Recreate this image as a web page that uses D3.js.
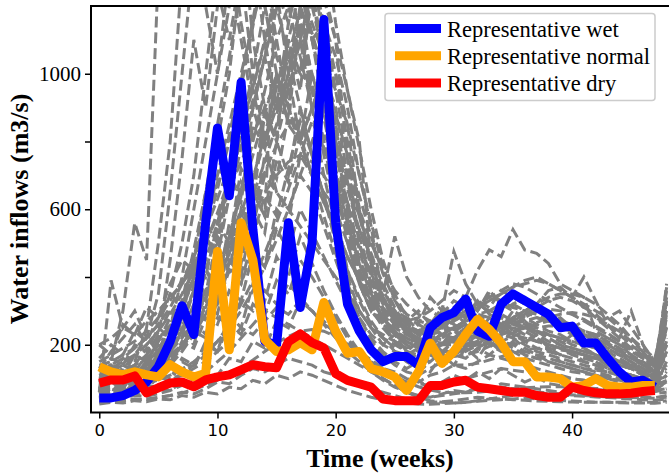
<!DOCTYPE html>
<html>
<head>
    <title>Water inflows scenarios</title>
    <script src="https://d3js.org/d3.v7.min.js"></script>
    <style>
        body { margin: 0; background: #fff; }
        .scen { fill: none; stroke: #808080; stroke-width: 3; stroke-dasharray: 11,4.8; }
        .rep { fill: none; stroke-width: 9; stroke-linejoin: round; }
        .ytick text { font-family: "Liberation Serif", serif; font-size: 21px; }
        .xtick text { font-family: "DejaVu Sans", sans-serif; font-size: 16.5px; }
        .title { font-family: "Liberation Serif", serif; font-size: 26px; font-weight: bold; }
        .legend-text { font-family: "Liberation Serif", serif; font-size: 22.5px; }
    </style>
</head>
<body>
    <svg width="669" height="475"></svg>
    <script>
        // representative years (weeks 0..47)
        var wetFlow = [43,43,50,65,90,135,210,315,230,560,840,640,975,540,210,200,560,310,500,1160,560,320,240,185,150,165,165,140,250,280,295,335,240,225,320,350,330,310,290,250,255,205,205,160,120,90,95,75];
        var normalFlow = [135,120,111,120,111,105,141,120,105,116,475,185,560,450,215,180,185,206,185,325,240,175,180,130,120,105,65,120,205,145,180,230,275,245,205,150,150,105,105,100,75,80,100,80,75,75,80,80];
        var dryFlow = [87,96,96,108,58,73,87,90,76,96,105,111,126,141,135,132,209,232,206,191,115,95,85,75,40,35,35,35,80,80,90,95,75,70,65,60,60,50,45,45,75,65,58,55,55,57,62,65];

        // historical scenarios (weeks 0..48)
        var scen01 = [70,150,300,560,450,1300,1500,1250,1400,1600,1350,1200,1450,1100,900,800,950,1100,900,700,550,400,300,250,230,210,190,200,230,260,240,220,200,210,230,250,240,220,200,190,170,160,150,130,120,100,90,80,150];
        var scen02 = [60,390,250,300,220,260,350,500,700,1000,1300,1500,1250,1350,1100,900,1000,1200,1300,1100,800,560,380,300,260,240,220,210,200,220,240,260,250,230,240,260,250,230,210,200,180,170,160,140,120,110,100,90,200];
        var scen03 = [40,50,60,80,100,140,200,300,450,650,800,1000,1300,1500,1300,1100,900,800,700,650,600,500,380,300,350,520,400,340,300,280,260,240,230,220,210,200,210,220,200,190,180,170,150,130,120,110,100,95,380];
        var scen04 = [90,100,130,110,150,180,250,400,600,800,1000,1200,1400,1300,1200,1050,950,1100,1250,1000,800,600,450,380,330,300,280,260,340,300,475,380,320,300,280,260,250,240,230,220,200,190,170,150,140,130,110,100,300];
        var scen05 = [50,60,70,90,110,150,220,330,480,650,850,1050,1250,1400,1200,1000,850,800,900,1000,900,700,500,380,300,260,240,230,250,300,310,340,420,480,460,540,480,470,440,380,360,340,240,220,200,170,140,120,250];
        var scen06 = [80,90,100,120,140,170,220,300,400,550,700,850,1000,1150,1300,1450,1350,1250,1300,1400,1150,950,800,450,330,280,250,240,230,240,250,270,280,300,290,270,250,240,230,220,210,200,190,180,160,140,120,100,330];
        var scen07 = [60,70,80,95,115,140,180,240,320,420,540,680,820,960,1100,1250,1350,1200,1100,1150,1050,900,700,550,330,280,250,230,220,230,250,270,290,300,310,320,300,290,270,250,230,210,190,170,150,130,110,95,260];
        var scen08 = [30,35,33,40,38,45,50,60,55,70,90,85,110,130,120,140,160,150,140,120,110,90,80,70,60,50,40,35,30,32,35,40,45,42,40,38,36,34,33,32,31,30,30,30,30,30,30,30,35];
        var scen09 = [100,120,140,130,160,180,150,200,240,220,280,260,330,300,360,320,380,340,300,260,240,200,180,150,130,120,100,90,110,120,140,130,150,170,160,150,140,130,120,110,100,95,90,85,80,75,70,65,90];
        var scen10 = [130,180,220,260,200,240,300,280,350,420,380,500,600,550,700,650,600,550,500,450,400,350,300,250,220,200,180,170,180,200,220,250,270,290,270,250,230,210,200,190,180,170,160,150,140,130,120,110,280];
        var scen11 = [45,55,70,90,120,160,210,280,360,450,560,700,850,1000,1200,1400,1300,1100,950,800,650,520,420,340,280,240,210,190,170,160,170,190,210,230,250,270,290,310,330,340,330,310,290,260,230,200,170,140,360];
        var scen12 = [200,220,250,230,270,300,340,380,430,500,580,660,740,820,900,980,1050,1000,950,900,800,700,600,500,420,360,320,290,270,260,270,290,310,330,350,370,390,400,380,360,340,320,300,280,250,220,190,160,300];
        var scen13 = [70,80,90,85,100,120,150,190,240,310,400,520,660,800,950,1100,1200,1050,900,780,650,540,440,360,300,260,230,210,200,200,210,220,230,240,260,280,300,320,360,370,340,400,330,260,220,300,200,130,220];
        var scen14 = [50,60,55,70,80,75,95,110,130,150,180,210,250,230,270,310,290,330,300,270,230,200,170,140,120,100,90,85,80,85,90,100,110,120,130,125,120,115,110,105,100,95,90,85,80,75,70,65,70];
        var scen15 = [90,100,110,120,130,150,180,220,270,340,420,520,640,760,880,1000,900,800,700,620,540,460,390,330,280,240,210,190,180,180,190,200,210,220,230,240,250,260,270,280,250,270,260,280,300,250,200,150,170];
        var scen16 = [110,130,150,170,200,240,290,350,420,500,590,690,800,920,1050,1190,1340,1250,1150,1050,950,850,600,420,320,270,240,220,210,205,210,220,230,240,250,260,270,280,270,260,250,240,230,220,200,180,160,140,240];
        var scen17 = [35,40,45,50,48,55,65,80,100,120,150,180,220,260,300,280,260,240,220,200,180,160,140,120,100,80,60,45,35,30,28,30,35,40,45,50,55,60,58,55,52,50,48,46,45,44,43,42,45];
        var scen18 = [75,85,95,110,125,145,170,200,240,290,350,420,500,580,650,700,740,760,740,700,640,570,490,410,340,280,240,210,190,180,180,190,200,220,240,260,280,300,290,270,250,230,210,190,170,150,130,110,130];
        var scen19 = [55,60,65,75,90,110,140,180,230,290,360,440,530,620,710,790,850,880,860,820,760,680,580,470,370,290,240,200,180,170,165,170,180,195,210,225,240,250,255,255,250,240,225,205,185,165,145,125,160];
        var scen20 = [140,150,170,190,220,260,310,380,460,560,680,820,980,1160,1350,1250,1150,1300,1400,1250,1100,750,500,380,310,270,250,240,240,250,270,290,310,330,350,370,380,390,380,360,340,310,280,250,220,190,160,140,290];
        var scen21 = [65,68,72,78,86,96,110,128,150,178,210,250,300,360,430,510,600,700,800,900,1000,800,600,440,340,280,240,210,190,180,180,185,195,205,220,235,250,265,280,290,295,290,280,260,240,210,180,150,200];
        var scen22 = [95,110,125,140,160,185,215,250,290,340,400,470,550,640,740,850,970,1100,1250,1150,1000,850,700,560,430,330,270,230,210,200,200,210,225,240,260,280,300,320,340,350,350,340,320,290,260,220,180,140,320];
        var scen23 = [30,32,34,36,40,44,50,58,68,80,95,112,132,155,180,205,225,240,245,240,225,205,180,155,130,108,90,76,66,60,58,58,60,63,66,70,73,75,76,76,75,73,71,69,67,65,63,61,70];
        var scen24 = [85,95,110,125,145,170,200,240,290,350,420,500,590,690,800,920,1050,1190,1340,1220,1100,950,780,600,450,350,280,240,220,215,215,220,230,245,260,275,290,300,305,300,290,275,255,235,210,185,160,135,370];
        var scen25 = [120,140,160,190,220,180,260,320,400,520,460,640,780,900,1050,880,1000,1150,950,800,650,520,400,310,250,210,180,160,160,190,230,280,330,290,260,230,210,190,180,170,160,150,140,130,120,110,100,90,180];
        var scen26 = [60,80,110,90,130,170,140,200,270,230,330,430,380,520,640,580,720,860,760,640,520,420,340,270,220,180,150,130,150,180,210,180,200,230,210,190,170,160,150,140,130,120,110,100,90,80,75,70,110];
        var scen27 = [100,110,120,140,170,210,260,330,420,530,660,800,960,1140,1330,1200,1050,900,760,640,540,460,390,340,300,280,270,280,300,330,360,340,320,300,320,340,330,310,290,270,250,230,210,190,170,150,130,110,210];
        var scen28 = [70,80,90,100,115,135,160,200,250,310,380,470,570,690,820,960,1100,1250,1100,950,800,660,540,440,360,300,260,240,260,290,330,310,290,280,300,320,340,310,290,270,260,240,220,200,180,160,140,120,260];
        var scen29 = [150,170,190,210,240,280,330,390,460,540,630,730,840,960,1090,1230,1380,1240,1120,1000,880,760,640,520,410,330,290,270,260,270,280,300,320,340,360,380,370,350,330,310,290,270,250,230,210,190,170,150,330];
        var scen30 = [45,50,55,62,70,80,95,115,140,170,210,260,320,390,470,560,660,760,860,780,700,620,540,460,380,310,250,200,170,150,140,140,145,155,165,175,185,190,190,185,180,170,160,150,140,130,120,110,120];
        var scen31 = [55,90,70,120,100,180,260,220,380,520,450,700,620,900,780,1000,850,1200,980,760,600,420,330,260,220,190,240,200,260,230,300,260,220,250,280,240,210,230,190,170,180,150,140,120,110,95,85,75,150];
        var scen32 = [110,95,140,120,170,230,190,310,270,420,360,560,480,650,580,800,700,900,760,640,500,380,300,250,200,230,180,210,170,200,250,210,240,200,180,210,170,160,190,150,140,130,120,110,100,90,80,70,90];
        var scen33 = [40,60,50,80,65,110,90,150,130,210,180,290,250,380,330,460,400,520,440,360,290,230,180,150,120,100,80,95,70,90,110,95,120,100,130,110,90,105,85,80,75,70,68,65,62,60,58,56,60];
        var scen34 = [160,200,170,240,210,280,350,310,450,400,560,500,720,650,900,820,1100,950,1250,1050,850,680,520,400,320,290,270,300,260,310,290,340,300,360,320,300,280,260,240,230,210,200,190,180,170,160,150,140,250];
        var scen35 = [75,60,95,80,130,110,170,240,200,330,290,450,400,600,530,750,680,820,700,580,470,360,280,220,180,150,130,150,120,170,140,190,160,210,180,220,190,170,150,140,130,120,110,100,95,90,85,80,95];
        var scen36 = [25,30,28,35,32,40,38,50,45,60,55,75,70,95,85,110,100,120,110,95,80,65,55,45,38,32,28,25,24,26,28,30,33,36,38,40,42,40,38,36,34,32,30,30,29,28,28,27,30];
        var scen37 = [90,140,110,170,150,210,280,250,360,330,470,420,600,540,760,690,880,800,1000,870,700,560,440,350,280,230,200,180,200,170,220,190,240,210,260,230,270,240,220,200,230,190,170,160,150,140,120,100,180];
        var scen38 = [65,75,110,90,150,200,170,280,240,370,330,500,440,650,580,1300,1500,1350,1100,900,720,560,420,320,260,210,180,160,150,160,180,200,220,210,190,200,180,170,160,150,140,130,125,120,115,110,100,90,140];
        var scen39 = [130,110,160,140,190,160,230,300,260,360,320,420,380,480,430,540,480,600,530,460,390,320,260,210,170,140,120,110,130,150,170,160,190,170,200,180,160,150,140,130,120,115,110,105,100,95,90,85,110];
        var scen40 = [45,70,55,90,75,120,100,160,140,200,180,260,230,320,290,390,350,450,400,340,280,220,170,130,100,80,60,50,45,55,65,60,75,70,85,80,75,70,65,60,58,56,54,52,50,48,46,44,50];
        var scen41 = [200,170,260,230,310,280,380,450,420,560,500,700,640,850,780,1000,900,1150,1000,880,760,620,480,360,290,250,230,260,240,290,270,320,300,350,330,310,300,280,270,250,240,230,220,200,180,160,140,120,280];
        var scen42 = [85,100,90,130,115,160,140,210,190,280,260,360,330,470,430,600,560,760,700,620,540,460,390,320,270,230,200,220,190,240,210,260,230,280,250,300,270,250,230,210,190,180,170,160,150,140,130,120,340];
        var scen43 = [35,45,40,55,50,70,65,90,85,120,110,160,150,210,190,270,250,330,300,260,220,180,150,120,95,75,60,50,45,50,55,60,70,65,75,70,65,60,55,52,50,48,46,44,42,40,38,36,40];
        var scen44 = [120,160,140,200,180,250,220,300,400,350,520,470,680,620,880,800,1100,1000,1300,1150,950,750,580,440,340,290,260,240,270,250,300,280,330,310,360,340,320,300,280,260,250,240,230,210,190,170,150,130,320];
        var scen45 = [60,80,100,150,250,500,800,1300,1500,1400,1250,1100,1300,1000,800,650,600,700,650,550,450,350,280,230,200,180,170,190,210,230,220,200,190,210,230,220,200,180,170,160,150,140,130,120,110,100,90,80,120];
        var scen46 = [90,110,130,170,220,350,650,1000,1350,1200,1000,1300,1100,900,1050,1250,1000,800,900,1000,700,500,380,300,260,230,210,220,240,260,280,300,280,260,250,270,260,240,220,200,190,180,170,160,150,140,120,100,200];
        var scen47 = [50,60,80,100,140,220,450,750,1100,900,1200,1400,1150,950,800,900,1150,1300,1200,1050,850,600,420,330,270,240,220,200,210,230,250,270,260,250,240,230,220,210,200,190,180,170,160,150,140,130,110,95,260];

        var scenarios = [scen01, scen02, scen03, scen04, scen05, scen06, scen07, scen08, scen09, scen10,
                         scen11, scen12, scen13, scen14, scen15, scen16, scen17, scen18, scen19, scen20,
                         scen21, scen22, scen23, scen24, scen25, scen26, scen27, scen28, scen29, scen30,
                         scen31, scen32, scen33, scen34, scen35, scen36, scen37, scen38, scen39, scen40,
                         scen41, scen42, scen43, scen44, scen45, scen46, scen47];

        var yTickValues = [200, 400, 600, 800, 1000];
        var yTickLabels = ["200", "", "600", "", "1000"];
        var xTickValues = [0, 10, 20, 30, 40];
        var legendLabels = ["Representative wet", "Representative normal", "Representative dry"];
        var legendColors = ["#0000ff", "#ffa500", "#ff0000"];

        var svg = d3.select("svg"),
            plotLeft = 91, plotTop = 6, plotRight = 669, plotBottom = 412.5;

        var x = d3.scaleLinear().domain([-0.7, 48.2]).range([plotLeft, plotRight]);
        var y = d3.scaleLinear().domain([0, 1200]).range([plotBottom, plotTop]);

        svg.append("clipPath").attr("id", "plot-clip")
           .append("rect")
           .attr("x", plotLeft).attr("y", plotTop)
           .attr("width", plotRight - plotLeft).attr("height", plotBottom - plotTop);

        var line = d3.line()
            .x(function(d, i) { return x(i); })
            .y(function(d) { return y(d); });

        var plot = svg.append("g").attr("clip-path", "url(#plot-clip)");

        plot.selectAll(".scen")
            .data(scenarios)
            .enter().append("path")
            .attr("class", "scen")
            .attr("d", line);

        [wetFlow, normalFlow, dryFlow].forEach(function(s, i) {
            plot.append("path")
                .datum(s)
                .attr("class", "rep")
                .attr("stroke", legendColors[i])
                .attr("d", line);
        });

        // axes
        var xAxis = svg.append("g")
            .attr("class", "xtick")
            .attr("transform", "translate(0," + plotBottom + ")")
            .call(d3.axisBottom(x).tickValues(xTickValues).tickSize(6).tickPadding(6));
        xAxis.select(".domain").remove();
        xAxis.selectAll("line").attr("stroke", "#000").attr("stroke-width", 1.5);
        xAxis.selectAll("text").attr("fill", "#000");

        var yAxis = svg.append("g")
            .attr("class", "ytick")
            .attr("transform", "translate(" + plotLeft + ",0)")
            .call(d3.axisLeft(y).tickValues(yTickValues)
                .tickFormat(function(d, i) { return yTickLabels[i]; })
                .tickSize(6).tickPadding(4));
        yAxis.select(".domain").remove();
        yAxis.selectAll("line").attr("stroke", "#000").attr("stroke-width", 1.5);
        yAxis.selectAll("text").attr("fill", "#000");

        // spines
        svg.append("path")
           .attr("d", "M" + plotRight + "," + plotTop + "H" + plotLeft + "V" + plotBottom + "H" + plotRight)
           .attr("fill", "none").attr("stroke", "#000").attr("stroke-width", 2);

        svg.append("text")
           .attr("class", "title")
           .attr("x", 380)
           .attr("y", 467)
           .attr("text-anchor", "middle")
           .text("Time (weeks)");

        svg.append("text")
           .attr("class", "title")
           .attr("transform", "translate(28," + 209 + ") rotate(-90)")
           .attr("text-anchor", "middle")
           .text("Water inflows (m3/s)");

        // legend
        var legend = svg.append("g");
        legend.append("rect")
              .attr("x", 385).attr("y", 13.5)
              .attr("width", 270).attr("height", 87)
              .attr("rx", 3)
              .attr("fill", "#fff").attr("fill-opacity", 0.8)
              .attr("stroke", "#cccccc").attr("stroke-width", 1.5);

        legendLabels.forEach(function(lbl, i) {
            var cy = 28.5 + i * 27.3;
            legend.append("line")
                  .attr("x1", 395).attr("x2", 441)
                  .attr("y1", cy).attr("y2", cy)
                  .attr("stroke", legendColors[i]).attr("stroke-width", 9);
            legend.append("text")
                  .attr("class", "legend-text")
                  .attr("x", 447).attr("y", cy + 8)
                  .text(lbl);
        });
    </script>
</body>
</html>
